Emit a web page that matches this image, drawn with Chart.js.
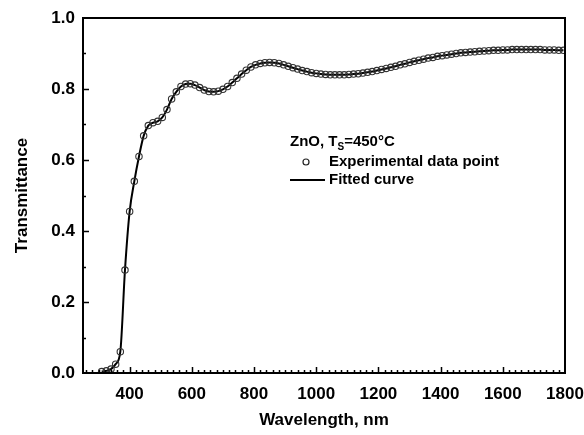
<!DOCTYPE html>
<html lang="en">
  <head>
    <meta charset="UTF-8" />
    <title>ZnO Transmittance</title>
    <script src="https://cdn.jsdelivr.net/npm/chart.js@4"></script>
    <style>
      html, body { margin: 0; padding: 0; background: #fff; }
      #wrap { width: 584px; height: 435px; }
    </style>
  </head>
  <body>
    <div id="wrap"><canvas id="myChart" width="584" height="435"></canvas></div>

    <script>
      // values
      const wavelength = [
        310, 325, 340, 355, 370, 385, 400, 415, 430, 445,
        460, 475, 490, 505, 520, 535, 550, 565, 580, 595,
        610, 625, 640, 655, 670, 685, 700, 715, 730, 745,
        760, 775, 790, 805, 820, 835, 850, 865, 880, 895,
        910, 925, 940, 955, 970, 985, 1000, 1015, 1030, 1045,
        1060, 1075, 1090, 1105, 1120, 1135, 1150, 1165, 1180, 1195,
        1210, 1225, 1240, 1255, 1270, 1285, 1300, 1315, 1330, 1345,
        1360, 1375, 1390, 1405, 1420, 1435, 1450, 1465, 1480, 1495,
        1510, 1525, 1540, 1555, 1570, 1585, 1600, 1615, 1630, 1645,
        1660, 1675, 1690, 1705, 1720, 1735, 1750, 1765, 1780, 1795
      ];
      const transmittance = [
        0.004, 0.006, 0.011, 0.025, 0.060, 0.290, 0.455, 0.540, 0.610, 0.668,
        0.697, 0.705, 0.709, 0.720, 0.742, 0.772, 0.792, 0.807, 0.814, 0.815,
        0.811, 0.804, 0.797, 0.793, 0.792, 0.794, 0.799, 0.807, 0.818, 0.830,
        0.842, 0.853, 0.862, 0.868, 0.872, 0.874, 0.875, 0.874, 0.872, 0.868,
        0.864, 0.860, 0.856, 0.852, 0.849, 0.846, 0.844, 0.842, 0.841, 0.840,
        0.840, 0.840, 0.840, 0.841, 0.842, 0.843, 0.845, 0.847, 0.849, 0.852,
        0.855, 0.858, 0.861, 0.864, 0.868, 0.871, 0.875, 0.878, 0.881, 0.884,
        0.887, 0.889, 0.892, 0.894, 0.896, 0.898, 0.900, 0.902, 0.903, 0.904,
        0.905, 0.906, 0.907, 0.908, 0.909, 0.909, 0.910, 0.910, 0.911, 0.911,
        0.911, 0.911, 0.911, 0.911, 0.911, 0.910, 0.910, 0.910, 0.909, 0.909
      ];
      const xTicks = [400, 600, 800, 1000, 1200, 1400, 1600, 1800];
      const yTicks = [0.0, 0.2, 0.4, 0.6, 0.8, 1.0];
      const xMinorStep = 20;
      const yMinorStep = 0.1;

      const FONT = 'Liberation Sans, Arial, sans-serif';

      // frame, inward ticks and the legend box inside the plot
      const framePlugin = {
        id: 'frame',
        afterDraw(chart) {
          const ctx = chart.ctx;
          const a = chart.chartArea;
          const xs = chart.scales.x, ys = chart.scales.y;
          ctx.save();
          ctx.strokeStyle = '#000';
          ctx.lineWidth = 2;
          ctx.strokeRect(a.left, a.top, a.right - a.left, a.bottom - a.top);

          ctx.lineWidth = 1.5;
          ctx.beginPath();
          for (let v = 260; v < xs.max; v += xMinorStep) {
            const px = Math.round(xs.getPixelForValue(v)) + 0.5;
            const len = xTicks.includes(v) ? 6 : 3;
            ctx.moveTo(px, a.bottom);
            ctx.lineTo(px, a.bottom - len);
          }
          for (let i = 1; i < 10; i++) {
            const v = i * yMinorStep;
            const py = Math.round(ys.getPixelForValue(v)) + 0.5;
            const len = i % 2 === 0 ? 6 : 3;
            ctx.moveTo(a.left, py);
            ctx.lineTo(a.left + len, py);
          }
          ctx.stroke();

          // legend
          ctx.fillStyle = '#000';
          ctx.textBaseline = 'middle';
          ctx.font = 'bold 15px ' + FONT;
          let x = 290, y = 142;
          ctx.fillText('ZnO, T', x, y);
          x += ctx.measureText('ZnO, T').width;
          ctx.font = 'bold 10px ' + FONT;
          ctx.fillText('S', x, y + 5);
          x += ctx.measureText('S').width;
          ctx.font = 'bold 15px ' + FONT;
          ctx.fillText('=450°C', x, y);

          ctx.lineWidth = 1.2;
          ctx.strokeStyle = '#222';
          ctx.beginPath();
          ctx.arc(306, 162, 3, 0, Math.PI * 2);
          ctx.stroke();
          ctx.fillText('Experimental data point', 329, 162);

          ctx.lineWidth = 2;
          ctx.strokeStyle = '#000';
          ctx.beginPath();
          ctx.moveTo(290, 180);
          ctx.lineTo(325, 180);
          ctx.stroke();
          ctx.fillText('Fitted curve', 329, 180);
          ctx.restore();
        }
      };

      const points = wavelength.map((w, i) => ({ x: w, y: transmittance[i] }));

      const ctx = document.getElementById('myChart').getContext('2d');
      const myChart = new Chart(ctx, {
        type: 'scatter',
        data: {
          datasets: [
            {
              label: 'Fitted curve',
              data: points,
              showLine: true,
              borderColor: '#000',
              borderWidth: 2,
              pointRadius: 0,
              cubicInterpolationMode: 'monotone',
              order: 2
            },
            {
              label: 'Experimental data point',
              data: points,
              showLine: false,
              pointRadius: 3.2,
              pointBorderWidth: 1.1,
              pointBorderColor: '#333',
              pointBackgroundColor: 'rgba(255,255,255,0)',
              order: 1
            }
          ]
        },
        options: {
          responsive: false,
          animation: false,
          layout: { padding: { top: 18, right: 19, left: 0, bottom: 0 } },
          plugins: { legend: { display: false }, tooltip: { enabled: false } },
          scales: {
            x: {
              type: 'linear',
              min: 250,
              max: 1800,
              afterBuildTicks: s => { s.ticks = xTicks.map(v => ({ value: v })); },
              afterFit: s => { s.height = 62; s.paddingLeft = 0; s.paddingRight = 0; },
              grid: { display: false, drawTicks: false },
              border: { display: false },
              ticks: { color: '#000', padding: 11, callback: v => String(v), font: { family: FONT, size: 17, weight: 'bold' }, maxRotation: 0 },
              title: { display: true, text: 'Wavelength, nm', color: '#000', padding: { top: 11 }, font: { family: FONT, size: 17, weight: 'bold' } }
            },
            y: {
              min: 0,
              max: 1.0,
              afterBuildTicks: s => { s.ticks = yTicks.map(v => ({ value: v })); },
              afterFit: s => { s.width = 83; s.paddingTop = 0; s.paddingBottom = 0; },
              grid: { display: false, drawTicks: false },
              border: { display: false },
              ticks: { color: '#000', padding: 8, callback: v => v.toFixed(1), font: { family: FONT, size: 17, weight: 'bold' } },
              title: { display: true, text: 'Transmittance', color: '#000', padding: { top: 12 }, font: { family: FONT, size: 17, weight: 'bold' } }
            }
          }
        },
        plugins: [framePlugin]
      });
    </script>
  </body>
</html>
